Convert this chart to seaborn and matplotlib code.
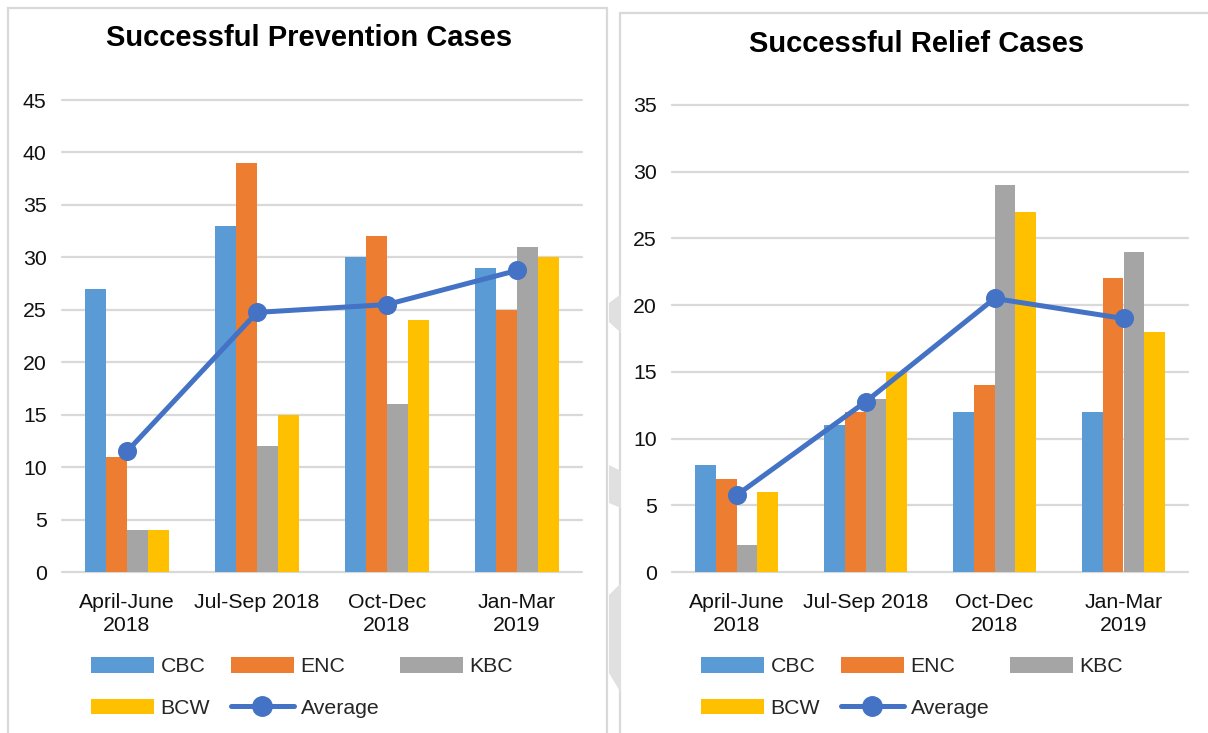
import numpy as np
import pandas as pd
import matplotlib
matplotlib.use("Agg")
import matplotlib.pyplot as plt
from matplotlib.patches import Patch, Rectangle, Polygon
from matplotlib.lines import Line2D
import seaborn as sns

# data
quarters = ["April-June\n2018", "Jul-Sep 2018", "Oct-Dec\n2018", "Jan-Mar\n2019"]
series = ["CBC", "ENC", "KBC", "BCW"]

prev_cbc = [27, 33, 30, 29]
prev_enc = [11, 39, 32, 25]
prev_kbc = [4, 12, 16, 31]
prev_bcw = [4, 15, 24, 30]

relief_cbc = [8, 11, 12, 12]
relief_enc = [7, 12, 14, 22]
relief_kbc = [2, 13, 29, 24]
relief_bcw = [6, 15, 27, 18]

colors = ["#5B9BD5", "#ED7D31", "#A5A5A5", "#FFC000"]
avg_color = "#4472C4"
grid_color = "#D9D9D9"
FS = 15.3

sns.set_theme(style="white")
plt.rcParams["font.family"] = ["Liberation Sans", "DejaVu Sans"]


def long_table(cols):
    rows = []
    for name, vals in zip(series, cols):
        for q, v in zip(quarters, vals):
            rows.append({"quarter": q, "series": name, "value": v})
    return pd.DataFrame(rows)


def draw_panel(ax, cols, ymax):
    df = long_table(cols)
    sns.barplot(data=df, x="quarter", y="value", hue="series", order=quarters,
                hue_order=series, palette=colors, width=0.65, gap=0,
                saturation=1, legend=False, linewidth=0, ax=ax)
    avg = pd.DataFrame({"quarter": quarters, "avg": np.mean(cols, axis=0)})
    sns.pointplot(data=avg, x="quarter", y="avg", order=quarters, color=avg_color,
                  markers="o", markersize=11, linewidth=3.6, errorbar=None, ax=ax)
    ax.set_ylim(0, ymax)
    ax.set_yticks(np.arange(0, ymax + 1, 5))
    ax.set_xlabel("")
    ax.set_ylabel("")
    ax.yaxis.grid(True, color=grid_color, linewidth=1.6)
    ax.set_axisbelow(True)
    for line in ax.get_ygridlines():
        line.set_clip_on(False)
    sns.despine(ax=ax, left=True, bottom=True)
    ax.tick_params(axis="y", length=0, pad=11, labelsize=FS, labelcolor="#111111")
    ax.tick_params(axis="x", length=0, pad=15, labelsize=FS, labelcolor="#111111")
    for lab in ax.get_xticklabels():
        lab.set_linespacing(1.25)


fig = plt.figure(figsize=(12.08, 7.33), dpi=100)
W, H = 1208, 733


def px(x0, y0, x1, y1):
    return [x0 / W, 1 - y1 / H, (x1 - x0) / W, (y1 - y0) / H]


# panel frames and the grey arrow pieces behind them
fig.add_artist(Rectangle((8 / W, -0.01), 599 / W, 1 - 8 / H + 0.01,
                         transform=fig.transFigure, fill=False,
                         edgecolor=grid_color, linewidth=1.6))
fig.add_artist(Rectangle((620 / W, -0.01), 600 / W, 1 - 13 / H + 0.01,
                         transform=fig.transFigure, fill=False,
                         edgecolor=grid_color, linewidth=1.6))
for pts in [[(621, 294), (609, 303), (609, 322), (621, 333)],
            [(609, 465), (621, 471), (621, 508), (609, 503)],
            [(621, 583), (609, 595), (609, 673), (621, 693)]]:
    fig.add_artist(Polygon([(x / W, 1 - y / H) for x, y in pts], closed=True,
                           transform=fig.transFigure, facecolor="#E0E0E0",
                           edgecolor="none"))

ax1 = fig.add_axes(px(62, 100, 582, 572))
ax2 = fig.add_axes(px(672, 105, 1188, 572))
for a in (ax1, ax2):
    a.patch.set_alpha(0)

draw_panel(ax1, [prev_cbc, prev_enc, prev_kbc, prev_bcw], 45)
draw_panel(ax2, [relief_cbc, relief_enc, relief_kbc, relief_bcw], 35)

fig.text(309 / W, 1 - 38 / H, "Successful Prevention Cases", ha="center", va="center",
         fontsize=21, fontweight="bold", color="#000000")
fig.text(917 / W, 1 - 44 / H, "Successful Relief Cases", ha="center", va="center",
         fontsize=21, fontweight="bold", color="#000000")

# legend order row-wise: CBC ENC KBC / BCW Average
bar_h = [Patch(facecolor=c, edgecolor="none") for c in colors]
avg_h = Line2D([0], [0], color=avg_color, linewidth=3.6, marker="o", markersize=14)
handles = [bar_h[0], bar_h[3], bar_h[1], avg_h, bar_h[2]]
labels = ["CBC", "BCW", "ENC", "Average", "KBC"]
for xl in (91, 701):
    fig.legend(handles, labels, ncol=3, loc="upper left",
               bbox_to_anchor=(xl / W, 1 - 657 / H), bbox_transform=fig.transFigure,
               frameon=False, fontsize=FS, handlelength=2.95, handleheight=0.75,
               handletextpad=0.33, columnspacing=0.97, labelspacing=1.05,
               borderpad=0, borderaxespad=0)

fig.savefig("out.png", dpi=100)
